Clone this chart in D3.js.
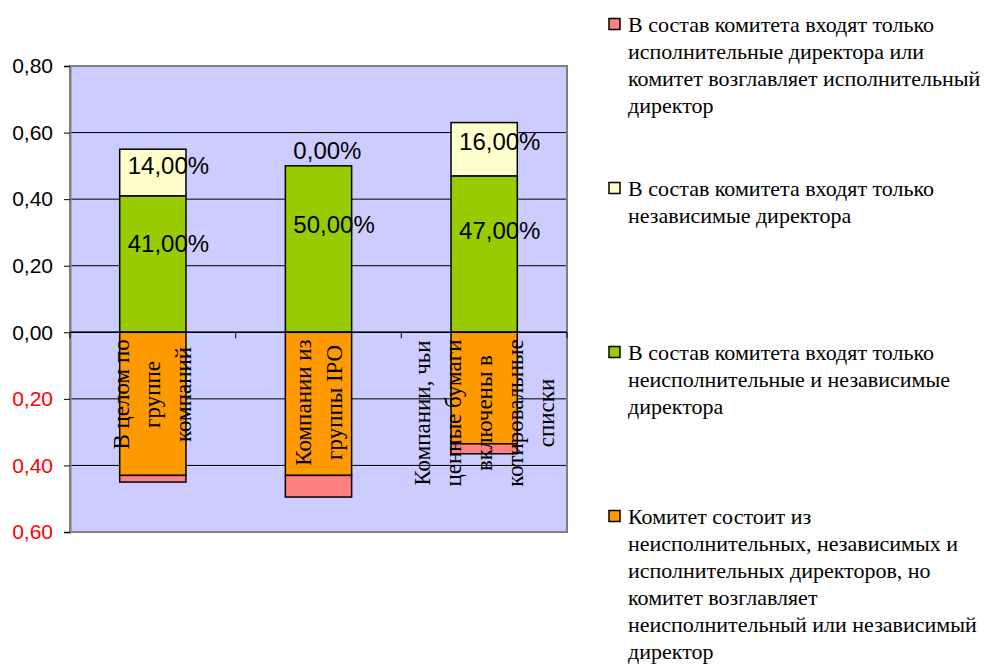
<!DOCTYPE html>
<html>
<head>
<meta charset="utf-8">
<script src="https://cdn.jsdelivr.net/npm/d3@7"></script>
<style>
    body { margin: 0; background: #fff; }
    svg { display: block; }
</style>
</head>
<body>
<svg id="chart" width="989" height="666"></svg>
<script>
// Categories (each one is split into the lines shown under the axis)
const categories = [
    ['В целом по', 'группе', 'компаний'],
    ['Компании из', 'группы IPO'],
    ['Компании, чьи', 'ценные бумаги', 'включены в', 'котировальные', 'списки']
];

// Series values (share of companies)
const greenValues = [0.41, 0.50, 0.47];   // неисполнительные и независимые
const creamValues = [0.14, 0.00, 0.16];   // только независимые
const orangeValues = [0.43, 0.43, 0.335]; // смешанный состав, председатель неисполнительный
const redValues = [0.02, 0.065, 0.03];    // только исполнительные

const yTicks = [-0.6, -0.4, -0.2, 0, 0.2, 0.4, 0.6, 0.8];

const legendItems = [
    ['В состав комитета входят только', 'исполнительные директора или', 'комитет возглавляет исполнительный', 'директор'],
    ['В состав комитета входят только', 'независимые директора'],
    ['В состав комитета входят только', 'неисполнительные и независимые', 'директора'],
    ['Комитет состоит из', 'неисполнительных, независимых и', 'исполнительных директоров, но', 'комитет возглавляет', 'неисполнительный или независимый', 'директор']
];
const legendColors = ['#FF8080', '#FFFFCC', '#99CC00', '#FF9900'];

const locale = d3.formatLocale({decimal: ',', thousands: ' ', grouping: [3], currency: ['', '']});
const fmtPct = locale.format('.2%');
const fmtTick = locale.format('.2f');

const svg = d3.select('#chart');
const plot = {left: 70, right: 567, top: 66, bottom: 532};

const x = d3.scaleBand()
    .domain(d3.range(categories.length))
    .range([plot.left, plot.right])
    .padding(0);

const y = d3.scaleLinear()
    .domain([-0.6, 0.8])
    .range([plot.bottom, plot.top]);

const barW = x.bandwidth() * 0.4;
const barX = i => x(i) + (x.bandwidth() - barW) / 2;

// Plot area
svg.append('rect')
    .attr('x', plot.left).attr('y', plot.top)
    .attr('width', plot.right - plot.left).attr('height', plot.bottom - plot.top)
    .attr('fill', '#CCCCFF');

// Gridlines
svg.append('g')
    .selectAll('line')
    .data(yTicks.filter(t => t > -0.6 && t < 0.8))
    .enter().append('line')
    .attr('x1', plot.left).attr('x2', plot.right)
    .attr('y1', d => y(d)).attr('y2', d => y(d))
    .attr('stroke', '#000').attr('stroke-width', 1);

svg.append('rect')
    .attr('x', plot.left).attr('y', plot.top)
    .attr('width', plot.right - plot.left).attr('height', plot.bottom - plot.top)
    .attr('fill', 'none').attr('stroke', '#808080').attr('stroke-width', 2);

// Y axis
const yAxis = svg.append('g')
    .attr('transform', `translate(${plot.left},0)`)
    .call(d3.axisLeft(y).tickValues(yTicks).tickSize(6).tickPadding(11)
        .tickFormat(d => fmtTick(Math.abs(d))));
yAxis.select('.domain').attr('stroke', '#808080').attr('stroke-width', 2);
yAxis.selectAll('.tick line').attr('stroke', '#000');
yAxis.selectAll('.tick text')
    .attr('font-family', '"Liberation Sans", Arial, sans-serif')
    .attr('font-size', 21)
    .attr('fill', d => d < 0 ? '#FF0000' : '#000');

// Stacks
const segments = [];
categories.forEach((c, i) => {
    segments.push({i, y0: 0, y1: greenValues[i], v: greenValues[i], color: '#99CC00', label: true});
    segments.push({i, y0: greenValues[i], y1: greenValues[i] + creamValues[i], v: creamValues[i], color: '#FFFFCC', label: true});
    segments.push({i, y0: 0, y1: -orangeValues[i], v: orangeValues[i], color: '#FF9900', label: false});
    segments.push({i, y0: -orangeValues[i], y1: -orangeValues[i] - redValues[i], v: redValues[i], color: '#FF8080', label: false});
});

svg.append('g')
    .selectAll('rect')
    .data(segments.filter(s => s.v > 0))
    .enter().append('rect')
    .attr('x', d => barX(d.i))
    .attr('width', barW)
    .attr('y', d => y(Math.max(d.y0, d.y1)))
    .attr('height', d => Math.abs(y(d.y0) - y(d.y1)))
    .attr('fill', d => d.color)
    .attr('stroke', '#000')
    .attr('stroke-width', 1.5);

// Zero axis line with category ticks
svg.append('line')
    .attr('x1', plot.left).attr('x2', plot.right)
    .attr('y1', y(0)).attr('y2', y(0))
    .attr('stroke', '#000').attr('stroke-width', 1.5);
svg.append('g')
    .selectAll('line')
    .data(d3.range(categories.length + 1))
    .enter().append('line')
    .attr('x1', d => d < categories.length ? x(d) : plot.right)
    .attr('x2', d => d < categories.length ? x(d) : plot.right)
    .attr('y1', y(0)).attr('y2', y(0) + 6)
    .attr('stroke', '#000');

// Data labels
svg.append('g')
    .selectAll('text')
    .data(segments.filter(s => s.label))
    .enter().append('text')
    .attr('x', d => barX(d.i) + 8)
    .attr('y', d => d.v === 0 ? y(d.y0) - 15 : y(d.y0 + d.v * 0.65))
    .attr('dominant-baseline', 'central')
    .attr('font-family', '"Liberation Sans", Arial, sans-serif')
    .attr('font-size', 24)
    .attr('fill', '#000')
    .text(d => fmtPct(d.v));

// Category labels, rotated
const catG = svg.append('g');
categories.forEach((lines, i) => {
    const g = catG.append('g');
    const texts = g.selectAll('text')
        .data(lines)
        .enter().append('text')
        .attr('text-anchor', 'middle')
        .attr('dominant-baseline', 'central')
        .attr('font-family', '"Liberation Serif", "Times New Roman", serif')
        .attr('font-size', 23)
        .attr('fill', '#000')
        .attr('y', (d, k) => (k - (lines.length - 1) / 2) * 31)
        .text(d => d);
    const maxLen = d3.max(texts.nodes(), n => n.getComputedTextLength());
    const cx = x(i) + x.bandwidth() / 2;
    const cy = y(0) + 7 + maxLen / 2;
    g.attr('transform', `translate(${cx},${cy}) rotate(-90)`);
});

// Legend
const legend = svg.append('g').attr('transform', 'translate(609,0)');
legendItems.forEach((lines, i) => {
    const base = 31.5 + i * 164;
    legend.append('rect')
        .attr('x', 0).attr('y', base - 13)
        .attr('width', 11).attr('height', 11)
        .attr('fill', legendColors[i])
        .attr('stroke', '#000').attr('stroke-width', 1.5);
    legend.append('g')
        .selectAll('text')
        .data(lines)
        .enter().append('text')
        .attr('x', 19)
        .attr('y', (d, k) => base + k * 27)
        .attr('font-family', '"Liberation Serif", "Times New Roman", serif')
        .attr('font-size', 22)
        .attr('fill', '#000')
        .text(d => d);
});
</script>
</body>
</html>
